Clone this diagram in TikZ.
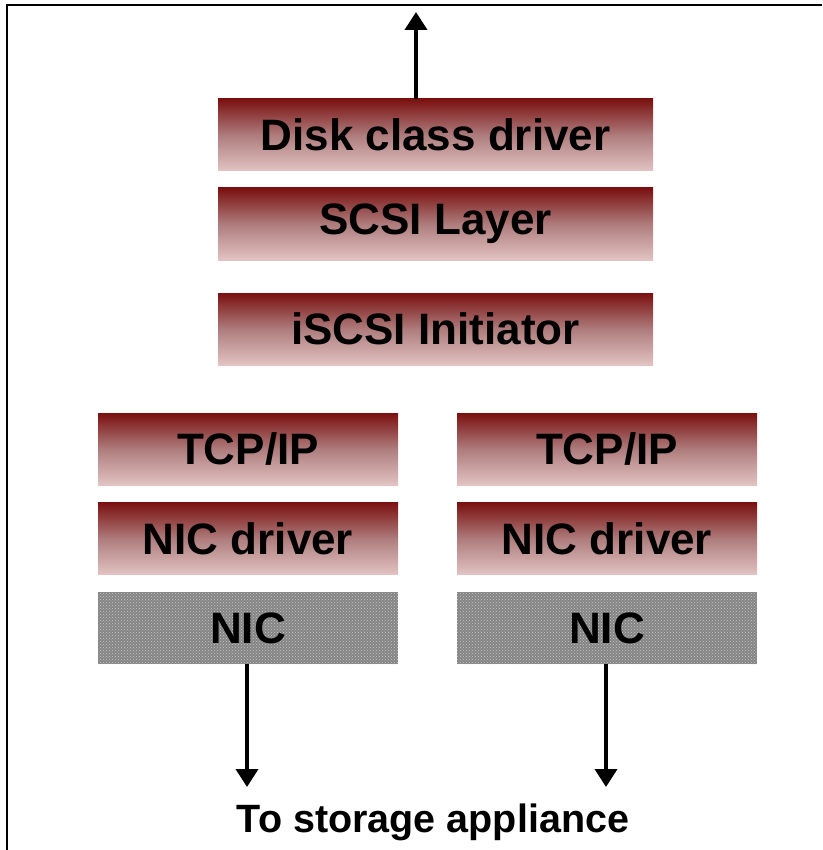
\documentclass[tikz,border=0pt]{standalone}
\usepackage{fontspec}
\setmainfont{Liberation Sans}
\usetikzlibrary{arrows.meta,patterns}
\definecolor{boxtop}{HTML}{7A1010}
\definecolor{boxmid}{HTML}{AE7C7C}
\definecolor{boxbot}{HTML}{E2C3C3}
\definecolor{nicgray}{HTML}{858585}
\tikzset{
  layerbox/.style={minimum height=72pt, inner sep=0pt, outer sep=0pt,
    top color=boxtop, bottom color=boxbot, middle color=boxmid,
    font=\fontsize{44}{50}\selectfont\bfseries},
  nicbox/.style={minimum height=72pt, inner sep=0pt, outer sep=0pt,
    fill=nicgray, postaction={pattern=crosshatch dots, pattern color=gray!45},
    font=\fontsize{44}{50}\selectfont\bfseries},
  wide/.style={minimum width=435pt},
  narrow/.style={minimum width=300pt},
  flow/.style={line width=3.8pt, -{Triangle[width=22pt,length=18pt]}},
}
\begin{document}
\begin{tikzpicture}[x=1pt,y=-1pt]
\useasboundingbox (0,0) rectangle (822,850);
% frame
\draw[line width=2pt] (7,850) -- (7,5) -- (822,5);
% upper stack
\node[layerbox,wide] (disk) at (435.5,135) {Disk class driver};
\node[layerbox,wide] (scsi) at (435.5,224) {SCSI Layer};
\node[layerbox,wide] (iscsi) at (435.5,329) {iSCSI Initiator};
% left stack
\node[layerbox,narrow] (tcpL) at (248,449) {TCP/IP};
\node[layerbox,narrow] (nicdL) at (248,538.5) {NIC driver};
\node[nicbox,narrow] (nicL) at (248,628) {NIC};
% right stack
\node[layerbox,narrow] (tcpR) at (607,449) {TCP/IP};
\node[layerbox,narrow] (nicdR) at (607,538.5) {NIC driver};
\node[nicbox,narrow] (nicR) at (607,628) {NIC};
% label
\node[font=\fontsize{39.5}{45}\selectfont\bfseries, inner sep=0pt] (store) at (433,822) {To storage appliance};
% arrows
\coordinate (up) at (416,12);
\coordinate (downL) at (247,787);
\coordinate (downR) at (606,787);
\draw[flow] (disk.north -| up) -- (up);
\draw[flow] (nicL.south -| downL) -- (downL);
\draw[flow] (nicR.south -| downR) -- (downR);
\end{tikzpicture}
\end{document}
